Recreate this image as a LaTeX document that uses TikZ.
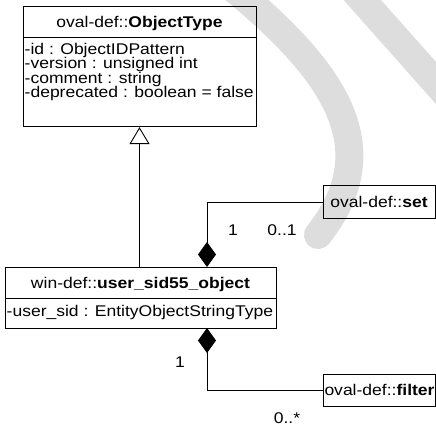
\documentclass[tikz,border=0pt]{standalone}
\usepackage{fontspec}
\setmainfont{Liberation Sans}[FakeStretch=1.13]
\usetikzlibrary{arrows.meta}
\definecolor{wm}{RGB}{221,221,221}
\tikzset{
  box/.style={draw=black, line width=1.1pt, rectangle, inner sep=0pt, anchor=north west},
  txt/.style={inner sep=0pt, font=\fontsize{15.5}{15}\selectfont},
  conn/.style={draw=black, line width=0.9pt},
  comp/.style={conn, {Diamond[length=25pt,width=18pt,fill=black]}-},
  gen/.style={conn, -{Triangle[open,length=17pt,width=20pt,fill=white]}},
  wmark/.style={draw=wm, line width=28pt}
}
\begin{document}
\begin{tikzpicture}[x=1pt,y=-1pt]
\useasboundingbox (0,0) rectangle (436,429);
\begin{scope}
\clip (0,0) rectangle (436,429);
\draw[wmark, line cap=round] (228,-16) .. controls (340,75) and (385,150) .. (318,235);
\draw[wmark] (349,-15) -- (460,110);
\end{scope}

% ObjectType class
\node[box, minimum width=233pt, minimum height=31pt] (objH) at (23,6) {};
\node[box, minimum width=233pt, minimum height=89pt] (objA) at (23,37) {};
\node[txt, anchor=base] (objT) at (139.5,27) {oval-def::\textbf{ObjectType}};
\node[txt, anchor=base west] (a1) at (24.5,54.5) {-id : ObjectIDPattern};
\node[txt, anchor=base west] (a2) at (24.5,68.8) {-version : unsigned int};
\node[txt, anchor=base west] (a3) at (24.5,83.1) {-comment : string};
\node[txt, anchor=base west] (a4) at (24.5,97.4) {-deprecated : boolean = false};

% user_sid55_object class
\node[box, minimum width=271pt, minimum height=31pt] (wdH) at (5,267) {};
\node[box, minimum width=271pt, minimum height=30pt] (wdA) at (5,298) {};
\node[txt, anchor=base] (wdT) at (140.5,288) {win-def::\textbf{user\_sid55\_object}};
\node[txt, anchor=base west] (b1) at (6.5,316) {-user\_sid : EntityObjectStringType};

% set
\node[box, minimum width=112pt, minimum height=33pt] (set) at (323,185) {};
\node[txt, anchor=base] (setT) at (379,207) {oval-def::\textbf{set}};

% filter
\node[box, minimum width=112pt, minimum height=32pt] (filter) at (323,374) {};
\node[txt, anchor=base] (filT) at (379.5,395) {oval-def::\textbf{filter}};

% connectors
\draw[gen] (wdH.north -| objT) -- (objA.south -| objT);
\coordinate (c1) at (207,267);
\coordinate (c2) at (207,328);
\draw[comp] (c1) |- (set.west);
\draw[comp] (c2) |- (filter.west);

% multiplicities
\node[txt, anchor=base] (m1) at (233,235) {1};
\node[txt, anchor=base] (m2) at (282,235) {0..1};
\node[txt, anchor=base] (m3) at (180,367) {1};
\node[txt, anchor=base] (m4) at (287,423) {0..*};
\end{tikzpicture}
\end{document}
